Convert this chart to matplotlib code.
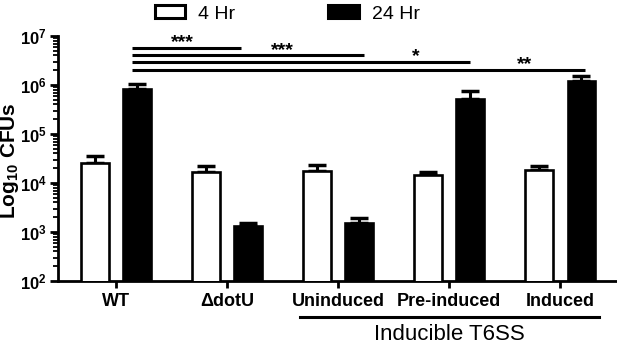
import matplotlib
matplotlib.use("Agg")
import matplotlib.pyplot as plt
import numpy as np
from matplotlib.patches import Patch
from matplotlib.ticker import LogLocator, FixedFormatter, FixedLocator
import matplotlib.transforms as mtransforms

plt.rcParams['font.family'] = ['Liberation Sans', 'DejaVu Sans']
plt.rcParams['mathtext.fontset'] = 'custom'
plt.rcParams['mathtext.rm'] = 'Liberation Sans'
plt.rcParams['mathtext.bf'] = 'Liberation Sans:bold'
plt.rcParams['mathtext.it'] = 'Liberation Sans:italic'

categories = ["WT", "\u0394dotU", "Uninduced", "Pre-induced", "Induced"]
hr4_mean = [2.6e4, 1.67e4, 1.75e4, 1.45e4, 1.85e4]
hr4_upper = [3.5e4, 2.2e4, 2.3e4, 1.67e4, 2.2e4]
hr24_mean = [8.3e5, 1.3e3, 1.5e3, 5.2e5, 1.2e6]
hr24_upper = [1.05e6, 1.5e3, 1.9e3, 7.5e5, 1.5e6]
series_labels = ["4 Hr", "24 Hr"]

# significance brackets
sig_start = [0.15, 0.15, 0.15, 0.15]
sig_end = [1.13, 2.23, 3.19, 4.22]
sig_y = [10**6.76, 10**6.61, 10**6.47, 10**6.31]
sig_labels = ["***", "***", "*", "**"]
sig_label_x = [0.60, 1.50, 2.70, 3.68]
sig_label_y = [10**6.77, 10**6.62, 10**6.48, 10**6.32]

group_label = "Inducible T6SS"
group_span = (1.66, 4.35)

fig = plt.figure(figsize=(6.17, 3.46), dpi=100)
ax = fig.add_axes([0.094, 0.188, 0.906, 0.708])

x = np.arange(len(categories))
off = 0.19
w = 0.25
lw = 1.9

ax.set_yscale('log')
ax.bar(x - off, hr4_mean, w, color='white', edgecolor='black', linewidth=lw, zorder=3)
ax.bar(x + off, hr24_mean, w, color='black', edgecolor='black', linewidth=lw, zorder=3)

e1 = np.array(hr4_upper) - np.array(hr4_mean)
e2 = np.array(hr24_upper) - np.array(hr24_mean)
ax.errorbar(x - off, hr4_mean, yerr=[np.zeros(len(x)), e1], fmt='none', ecolor='black',
            elinewidth=2.2, capsize=6.5, capthick=2.5, zorder=2)
ax.errorbar(x + off, hr24_mean, yerr=[np.zeros(len(x)), e2], fmt='none', ecolor='black',
            elinewidth=2.2, capsize=6.5, capthick=2.5, zorder=2)

ax.set_ylim(1e2, 1e7)
ax.set_xlim(-0.52, 4.51)

for s, e, yv in zip(sig_start, sig_end, sig_y):
    ax.plot([s, e], [yv, yv], color='black', lw=2.2, solid_capstyle='butt', zorder=4)
for lx, ly, lab in zip(sig_label_x, sig_label_y, sig_labels):
    ax.text(lx, ly, lab, ha='center', va='baseline', fontsize=14, fontweight='bold')

ax.spines['top'].set_visible(False)
ax.spines['right'].set_visible(False)
ax.spines['left'].set_linewidth(2)
ax.spines['bottom'].set_linewidth(2)

ax.yaxis.set_major_locator(FixedLocator([1e2, 1e3, 1e4, 1e5, 1e6, 1e7]))
ax.yaxis.set_major_formatter(FixedFormatter([r'$\mathbf{10^{%d}}$' % k for k in range(2, 8)]))
ax.yaxis.set_minor_locator(LogLocator(base=10, subs=np.arange(2, 10)))
ax.yaxis.set_minor_formatter(FixedFormatter([]))
ax.tick_params(axis='y', which='major', length=6, width=2, labelsize=12, pad=2)
ax.tick_params(axis='y', which='minor', length=3.5, width=1.3)

ax.set_xticks(x)
ax.set_xticklabels(categories, fontweight='bold', fontsize=13)
ax.tick_params(axis='x', which='major', length=5, width=2, pad=4)

ax.set_ylabel(r'$\mathbf{Log_{10}\ CFUs}$', fontsize=15)
ax.yaxis.set_label_coords(-0.066, 0.49)

trans = mtransforms.blended_transform_factory(ax.transData, ax.transAxes)
ax.plot(list(group_span), [-0.147, -0.147], color='black', lw=2.2, transform=trans, clip_on=False)
ax.text(sum(group_span) / 2, -0.22, group_label, transform=trans, ha='center', va='center', fontsize=16)

handles = [Patch(facecolor='white', edgecolor='black', linewidth=2.2),
           Patch(facecolor='black', edgecolor='black', linewidth=2.2)]
fig.legend(handles, series_labels, loc='upper left', bbox_to_anchor=(0.251, 0.985), ncol=2,
           frameon=False, fontsize=14, handlelength=1.55, handleheight=0.67,
           columnspacing=4.8, handletextpad=0.67, borderpad=0, borderaxespad=0)

fig.savefig('out.png', dpi=100)
